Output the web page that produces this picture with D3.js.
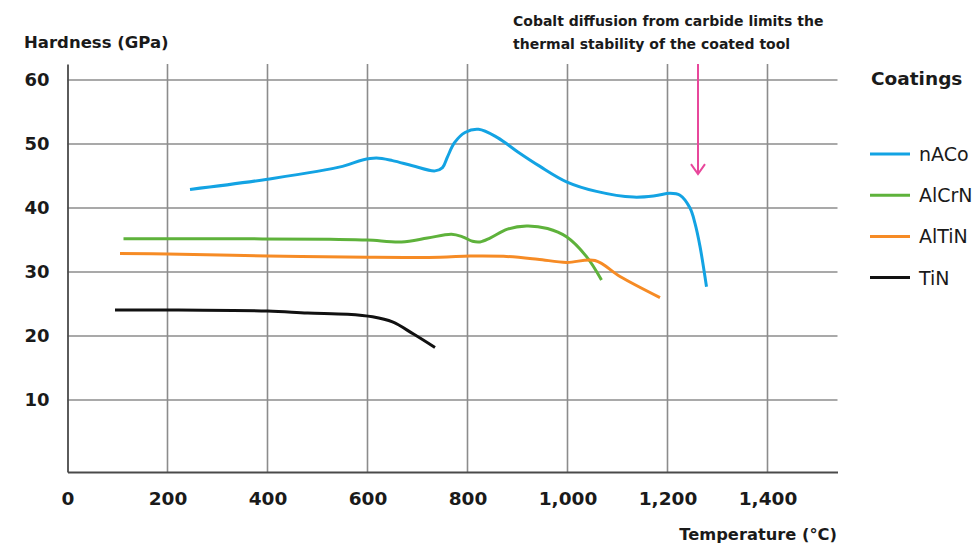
<!DOCTYPE html>
<html><head><meta charset="utf-8">
<script src="https://cdn.jsdelivr.net/npm/d3@7"></script>
<style>
html,body{margin:0;padding:0;background:#fff;}
svg{display:block;}
text{font-family:"DejaVu Sans",sans-serif;fill:#1a1a1a;}
</style></head>
<body>
<svg id="chart" width="979" height="545"></svg>
<script>
// ---- data ----
const seriesNames = ["nACo", "AlCrN", "AlTiN", "TiN"];
const seriesColors = ["#13a3e3", "#5eb23b", "#f68b25", "#111111"];
const nACo = [[245,42.9],[400,44.5],[550,46.5],[590,47.5],[618,47.8],[650,47.4],[690,46.6],[735,45.8],[750,46.3],[760,48.0],[774,50.2],[795,51.8],[822,52.3],[860,51.0],[900,48.8],[945,46.5],[998,44.1],[1058,42.6],[1132,41.7],[1175,41.9],[1205,42.3],[1225,42.0],[1245,40.0],[1255,37.6],[1265,34.0],[1278,27.7]];
const AlCrN = [[112,35.2],[300,35.2],[525,35.1],[600,35.0],[668,34.7],[720,35.3],[768,35.9],[790,35.5],[810,34.8],[825,34.7],[845,35.3],[880,36.7],[918,37.2],[960,36.8],[998,35.5],[1038,32.4],[1068,28.75]];
const AlTiN = [[105,32.9],[200,32.8],[400,32.5],[600,32.3],[745,32.3],[805,32.5],[872,32.45],[940,32.0],[998,31.5],[1055,31.8],[1105,29.3],[1185,26.0]];
const TiN = [[95,24.06],[200,24.06],[400,23.9],[480,23.6],[560,23.4],[610,23.0],[650,22.2],[692,20.3],[735,18.2]];
const xTicks = [0,200,400,600,800,1000,1200,1400];
const yTicks = [10,20,30,40,50,60];
const yTitle = "Hardness (GPa)";
const xTitle = "Temperature (°C)";
const legendTitle = "Coatings";
const noteLines = ["Cobalt diffusion from carbide limits the", "thermal stability of the coated tool"];
const noteTemp = 1261;
const noteFromTo = [62.5, 45.3];

const allSeries = [nACo, AlCrN, AlTiN, TiN];

const svg = d3.select("#chart");
const x = d3.scaleLinear().domain([0,1540]).range([67.5,837.5]);
const y = d3.scaleLinear().domain([-1.25,62.5]).range([472,64]);

// gridlines
const grid = svg.append("g");
grid.selectAll(".hg").data(yTicks).join("line")
  .attr("x1", x(0)).attr("x2", x(1540))
  .attr("y1", d=>y(d)).attr("y2", d=>y(d))
  .attr("stroke","#8c8c8c").attr("stroke-width",1.6);
grid.selectAll(".vg").data(xTicks.filter(d=>d>0)).join("line")
  .attr("x1", d=>x(d)).attr("x2", d=>x(d))
  .attr("y1", y(62.5)).attr("y2", y(-1.25))
  .attr("stroke","#8c8c8c").attr("stroke-width",1.6);

// axes
const xAxis = svg.append("g").attr("transform",`translate(0,${y(-1.25)})`)
  .call(d3.axisBottom(x).tickValues(xTicks).tickSize(0).tickPadding(20).tickFormat(d3.format(",")));
xAxis.select(".domain").attr("stroke","#4a4a4a").attr("stroke-width",1.8);
xAxis.selectAll("text").style("font-family","'DejaVu Sans',sans-serif").style("font-size","18.5px").style("font-weight","bold").attr("fill","#1a1a1a");

const yAxis = svg.append("g").attr("transform",`translate(${x(0)},0)`)
  .call(d3.axisLeft(y).tickValues(yTicks).tickSize(0).tickPadding(18));
yAxis.select(".domain").attr("stroke","#4a4a4a").attr("stroke-width",1.8);
yAxis.selectAll("text").style("font-family","'DejaVu Sans',sans-serif").style("font-size","18px").style("font-weight","bold").attr("fill","#1a1a1a");

// titles
svg.append("text").attr("x",24).attr("y",48).text(yTitle)
  .style("font-size","16.5px").style("font-weight","bold");
svg.append("text").attr("x",837).attr("y",540).attr("text-anchor","end").text(xTitle)
  .style("font-size","16.3px").style("font-weight","bold");

// lines
const line = d3.line().x(d=>x(d[0])).y(d=>y(d[1])).curve(d3.curveCatmullRom.alpha(0.5));
svg.append("g").selectAll("path").data(allSeries).join("path")
  .attr("d", line).attr("fill","none")
  .attr("stroke",(d,i)=>seriesColors[i]).attr("stroke-width",3)
  .attr("stroke-linecap","butt").attr("stroke-linejoin","round");

// annotation
const note = svg.append("g");
note.selectAll("text").data(noteLines).join("text")
  .attr("x",513).attr("y",(d,i)=>25.5+i*23).text(d=>d)
  .style("font-size","14px").style("font-weight","bold");
const ax = x(noteTemp), ay1 = y(noteFromTo[0]), ay2 = y(noteFromTo[1]);
note.append("line").attr("x1",ax).attr("x2",ax).attr("y1",ay1).attr("y2",ay2)
  .attr("stroke","#e8479b").attr("stroke-width",2);
note.append("path").attr("d",`M${ax-7},${ay2-10}L${ax},${ay2}L${ax+7},${ay2-10}`)
  .attr("fill","none").attr("stroke","#e8479b").attr("stroke-width",2);

// legend
const lg = svg.append("g");
lg.append("text").attr("x",871).attr("y",85).text(legendTitle)
  .style("font-size","18.5px").style("font-weight","bold");
const items = lg.selectAll("g.item").data(seriesNames).join("g")
  .attr("transform",(d,i)=>`translate(870,${154+i*41.2})`);
items.append("line").attr("x1",0).attr("x2",40).attr("y1",0).attr("y2",0)
  .attr("stroke",(d,i)=>seriesColors[i]).attr("stroke-width",3);
items.append("text").attr("x",49).attr("y",7).text(d=>d)
  .style("font-size","19px").attr("fill","#222");
</script>
</body></html>
